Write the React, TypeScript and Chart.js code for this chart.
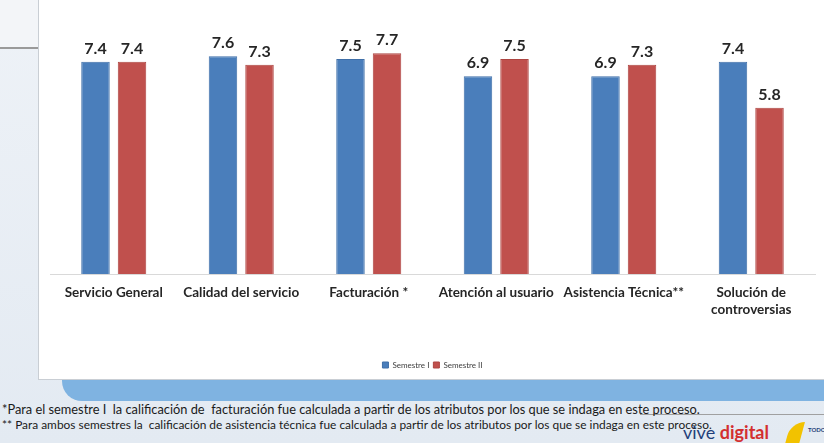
import React, { useEffect, useRef } from "react";
import { Chart, registerables } from "chart.js";

Chart.register(...registerables);

const categories: (string | string[])[] = [
  "Servicio General",
  "Calidad del servicio",
  "Facturación *",
  "Atención al usuario",
  "Asistencia Técnica**",
  ["Solución de", "controversias"],
];
const semestreI = [7.4, 7.6, 7.5, 6.9, 6.9, 7.4];
const semestreII = [7.4, 7.3, 7.7, 7.5, 7.3, 5.8];
const seriesNames = ["Semestre I", "Semestre II"];
const footnotes = [
  "*Para el semestre I  la calificación de  facturación fue calculada a partir de los atributos por los que se indaga en este proceso.",
  "** Para ambos semestres la  calificación de asistencia técnica fue calculada a partir de los atributos por los que se indaga en este proceso.",
];

const BLUE = "#4a7ebb";
const RED = "#c0504d";

const valueLabels = {
  id: "valueLabels",
  afterDatasetsDraw(chart: any) {
    const ctx = chart.ctx;
    ctx.save();
    ctx.font = "bold 16px Lato";
    ctx.fillStyle = "#262626";
    ctx.textAlign = "center";
    ctx.textBaseline = "bottom";
    chart.data.datasets.forEach((ds: any, i: number) => {
      const meta = chart.getDatasetMeta(i);
      meta.data.forEach((bar: any, j: number) => {
        ctx.fillText(Number(ds.data[j]).toFixed(1), bar.x, bar.y - 5);
      });
    });
    ctx.restore();
  },
};

export default function App() {
  const ref = useRef<HTMLCanvasElement>(null);
  useEffect(() => {
    document.body.style.margin = "0";
    const chart = new Chart(ref.current!, {
      type: "bar",
      data: {
        labels: categories,
        datasets: [
          {
            label: seriesNames[0],
            data: semestreI,
            backgroundColor: BLUE,
            borderColor: "#3f6fa8",
            borderWidth: 1,
          },
          {
            label: seriesNames[1],
            data: semestreII,
            backgroundColor: RED,
            borderColor: "#ad4542",
            borderWidth: 1,
          },
        ],
      },
      options: {
        responsive: false,
        animation: false,
        maintainAspectRatio: false,
        layout: { padding: { left: 12, right: 9, top: 16, bottom: 1 } },
        datasets: {
          bar: { categoryPercentage: 0.573, barPercentage: 0.78 },
        },
        plugins: {
          tooltip: { enabled: false },
          legend: {
            position: "bottom",
            labels: {
              boxWidth: 6,
              boxHeight: 6,
              padding: 4,
              color: "#404040",
              font: { family: "Lato", size: 8 },
            },
          },
        },
        scales: {
          y: {
            display: false,
            min: 0,
            max: 9,
          },
          x: {
            grid: { display: false, drawTicks: false },
            border: { display: true, color: "#d9d9d9", width: 1 },
            ticks: {
              padding: 11,
              color: "#262626",
              font: { family: "Lato", size: 13.5, weight: "bold" },
              maxRotation: 0,
              autoSkip: false,
            },
            afterFit: (scale: any) => {
              scale.height = 83;
            },
          },
        },
      },
      plugins: [valueLabels],
    });
    return () => chart.destroy();
  }, []);

  return (
    <div
      style={{
        position: "relative",
        width: 824,
        height: 443,
        overflow: "hidden",
        background: "linear-gradient(180deg, #eef2f7 0%, #e3eaf2 100%)",
        fontFamily: "Lato, sans-serif",
      }}
    >
      <div style={{ position: "absolute", left: 0, top: 0, width: 38, height: 48, background: "#f3f5f8" }} />
      <div style={{ position: "absolute", left: 0, top: 47, width: 38, height: 2, background: "#9a9a9a" }} />
      <div
        style={{
          position: "absolute",
          left: 62,
          top: 375,
          width: 780,
          height: 26,
          background: "#7fb3e1",
          borderBottomLeftRadius: 20,
        }}
      />
      <div
        style={{
          position: "absolute",
          left: 38,
          top: 0,
          width: 786,
          height: 380,
          background: "#ffffff",
          borderLeft: "1px solid #c9ced4",
          borderBottom: "1px solid #c9ced4",
          boxSizing: "border-box",
        }}
      />
      <canvas
        ref={ref}
        width={786}
        height={380}
        style={{ position: "absolute", left: 38, top: 0, width: 786, height: 380 }}
      />
      <div style={{ position: "absolute", left: 640, top: 414, width: 184, height: 1, background: "#a0a0a0" }} />
      <div
        style={{
          position: "absolute",
          left: 2,
          top: 402,
          lineHeight: "15px",
          color: "#1a1a1a",
          whiteSpace: "pre",
        }}
      >
        <div style={{ fontSize: 12.8 }}>{footnotes[0]}</div>
        <div style={{ fontSize: 11.9 }}>{footnotes[1]}</div>
      </div>
      <div
        style={{
          position: "absolute",
          left: 683,
          top: 421,
          fontSize: 18,
          lineHeight: "22px",
          whiteSpace: "pre",
        }}
      >
        <span style={{ color: "#1f3f7a" }}>vive </span>
        <span style={{ color: "#d32f2f", fontWeight: 700 }}>digital</span>
      </div>
      <div
        style={{
          position: "absolute",
          left: 788,
          top: 422,
          width: 14,
          height: 22,
          background: "#f2c200",
          borderTopLeftRadius: 14,
          transform: "skewX(-15deg)",
        }}
      />
      <div
        style={{
          position: "absolute",
          left: 808,
          top: 426,
          fontSize: 6,
          fontWeight: 700,
          color: "#1f3f7a",
        }}
      >
        TODOS
      </div>
    </div>
  );
}
